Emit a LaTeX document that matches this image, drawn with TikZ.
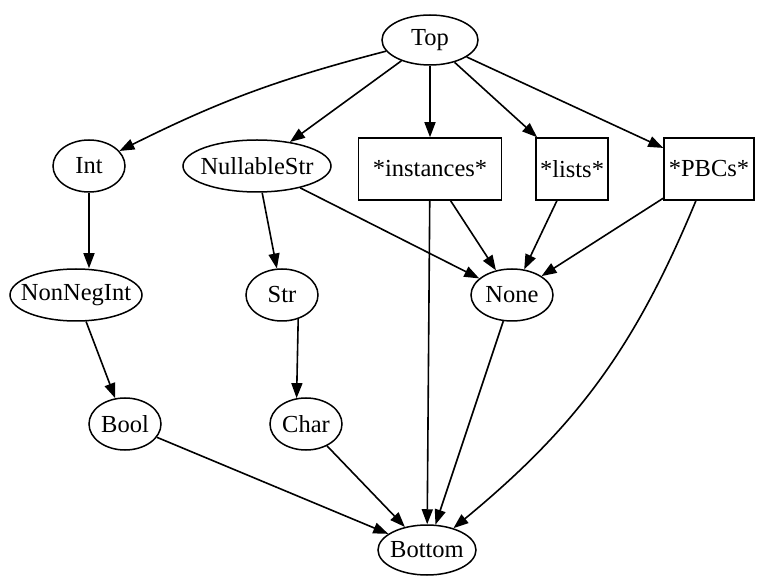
\documentclass[tikz,border=0pt]{standalone}
\usepackage{fontspec}
\setmainfont{Liberation Serif}
\usetikzlibrary{shapes.geometric,arrows.meta}
\begin{document}
\begin{tikzpicture}[x=1pt,y=-1pt,
  base/.style={draw, line width=1.5pt, font=\fontsize{24.5}{29}\selectfont},
  el/.style={base, ellipse, inner xsep=-25pt, inner ysep=-6pt},
  bx/.style={base, rectangle, inner sep=0pt, minimum height=62pt},
  edge/.style={line width=1.6pt, -{Triangle[length=15pt,width=11pt]}}]
\useasboundingbox (0,0) rectangle (769,585);
\node[el, minimum width=96pt, minimum height=50pt] (top) at (430,40) {Top};
\node[el, minimum width=72pt, minimum height=52pt] (int) at (89,166) {Int};
\node[el, minimum width=148pt, minimum height=52pt] (nstr) at (257,166) {NullableStr};
\node[bx, minimum width=143pt] (inst) at (430,169) {*instances*};
\node[bx, minimum width=72pt] (lists) at (572,169) {*lists*};
\node[bx, minimum width=90pt] (pbcs) at (709,169) {*PBCs*};
\node[el, minimum width=132pt, minimum height=52pt] (nni) at (76,295) {NonNegInt};
\node[el, minimum width=72pt, minimum height=52pt] (str) at (282,295) {Str};
\node[el, minimum width=82pt, minimum height=52pt] (none) at (512,295) {None};
\node[el, minimum width=72pt, minimum height=52pt] (bool) at (125,424) {Bool};
\node[el, minimum width=72pt, minimum height=52pt] (char) at (306,424) {Char};
\node[el, minimum width=98pt, minimum height=50pt] (bot) at (427,550) {Bottom};
\draw[edge] (top) to[bend right=6] (int);
\draw[edge] (top) -- (nstr);
\draw[edge] (top) -- (inst);
\draw[edge] (top) -- (lists);
\draw[edge] (top) -- (pbcs);
\draw[edge] (int.south) -- (nni.north -| int.south);
\draw[edge] (nni) -- (bool);
\draw[edge] (nstr) -- (str);
\draw[edge] (nstr) -- (none);
\draw[edge] (str.-56) -- (char.110);
\draw[edge] (inst) -- (none);
\draw[edge] (lists) -- (none);
\draw[edge] (pbcs) -- (none);
\draw[edge] (inst) -- (bot);
\draw[edge] (pbcs) to[bend left=14] (bot);
\draw[edge] (none) -- (bot);
\draw[edge] (bool) -- (bot);
\draw[edge] (char) -- (bot);
\end{tikzpicture}
\end{document}
